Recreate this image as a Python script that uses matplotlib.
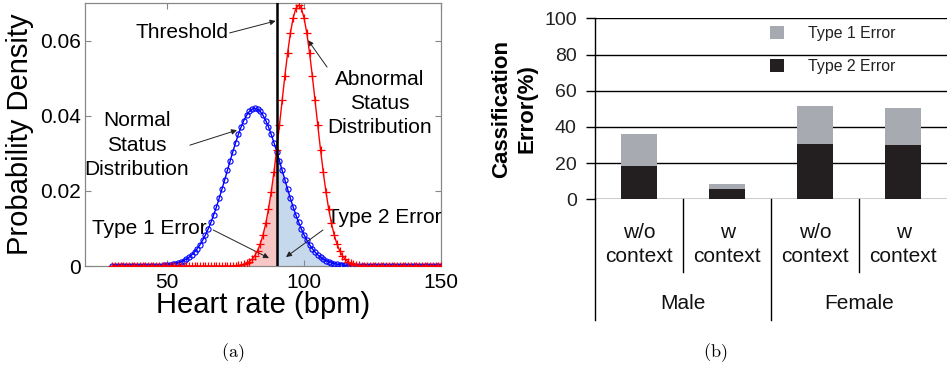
import numpy as np
import matplotlib
matplotlib.use("Agg")
import matplotlib.pyplot as plt
import matplotlib.transforms as mtransforms
from matplotlib.patches import Patch

plt.rcParams['font.family'] = ['Liberation Sans', 'DejaVu Sans']
plt.rcParams['mathtext.fontset'] = 'cm'

# ---------------- data: panel (a) ----------------
heart_rate = list(range(30, 151))  # bpm, one sample per bpm

normal_core = [0.00004, 0.00006, 0.00009, 0.00013, 0.00018, 0.00025, 0.00034, 0.00047,
               0.00063, 0.00083, 0.00110, 0.00143, 0.00184, 0.00236, 0.00298, 0.00373,
               0.00463, 0.00568, 0.00691, 0.00831, 0.00990, 0.01168, 0.01364, 0.01576,
               0.01804, 0.02045, 0.02294, 0.02547, 0.02801, 0.03050, 0.03287, 0.03508,
               0.03707, 0.03877, 0.04015, 0.04117, 0.04179,
               0.04200,
               0.04179, 0.04117, 0.04015, 0.03877, 0.03707, 0.03508, 0.03287, 0.03050,
               0.02801, 0.02547, 0.02294, 0.02045, 0.01804, 0.01576, 0.01364, 0.01168,
               0.00990, 0.00831, 0.00691, 0.00568, 0.00463, 0.00373, 0.00298, 0.00236,
               0.00184, 0.00143, 0.00110, 0.00083, 0.00063, 0.00047, 0.00034, 0.00025,
               0.00018, 0.00013, 0.00009, 0.00006, 0.00004]
normal_density = [0.0] * 15 + normal_core + [0.0] * 31      # 30..44, 45..119, 120..150

abnormal_core = [0.00005, 0.00009, 0.00016, 0.00027, 0.00045, 0.00074, 0.00117, 0.00182,
                 0.00276, 0.00408, 0.00589, 0.00827, 0.01133, 0.01514, 0.01972, 0.02505,
                 0.03104, 0.03749, 0.04416, 0.05072, 0.05681, 0.06205, 0.06609, 0.06863,
                 0.06950,
                 0.06863, 0.06609, 0.06205, 0.05681, 0.05072, 0.04416, 0.03749, 0.03104,
                 0.02505, 0.01972, 0.01514, 0.01133, 0.00827, 0.00589, 0.00408, 0.00276,
                 0.00182, 0.00117, 0.00074, 0.00045, 0.00027, 0.00016, 0.00009, 0.00005]
abnormal_density = [0.0] * 44 + abnormal_core + [0.0] * 28  # 30..73, 74..122, 123..150

threshold = 90

# ---------------- data: panel (b) ----------------
groups = ['Male', 'Female']
conditions = ['w/o\ncontext', 'w\ncontext', 'w/o\ncontext', 'w\ncontext']
type2_error = [18.5, 5.7, 30.5, 30.0]
type1_error = [17.5, 2.9, 21.0, 20.4]

# ---------------- figure ----------------
W, H = 948, 368
fig = plt.figure(figsize=(W / 100, H / 100), dpi=100)

def frac(x0, y0, x1, y1):
    return [x0 / W, 1 - y1 / H, (x1 - x0) / W, (y1 - y0) / H]

# ===== panel (a) =====
ax1 = fig.add_axes(frac(85, 3.3, 441, 266))
x = np.array(heart_rate)
yn = np.array(normal_density)
ya = np.array(abnormal_density)

ax1.fill_between(x, 0, ya, where=x <= threshold, color='#f9c6c6', lw=0, zorder=1)
ax1.fill_between(x, 0, yn, where=x >= threshold, color='#c6d9ec', lw=0, zorder=1)
ax1.plot(x, yn, color='#0000ff', lw=1.0, marker='o', ms=3.7, mfc='none',
         mec='#0000ff', mew=0.8, zorder=3)
ax1.plot(x, ya, color='#ff0000', lw=1.0, marker='+', ms=5.2, mew=0.9, zorder=4)
ax1.axvline(threshold, color='black', lw=1.8, zorder=5)

ax1.set_xlim(20, 150)
ax1.set_ylim(0, 0.07)
ax1.set_xticks([50, 100, 150])
ax1.set_yticks([0, 0.02, 0.04, 0.06])
ax1.set_yticklabels(['0', '0.02', '0.04', '0.06'])
ax1.tick_params(direction='in', top=True, right=True, length=4, color='#888888',
                labelsize=15, pad=3)
ax1.tick_params(axis='x', pad=5)
for s in ax1.spines.values():
    s.set_color('#888888')
    s.set_linewidth(0.9)

ax1.text(0.5, -0.179, 'Heart rate (bpm)', transform=ax1.transAxes, ha='center',
         va='baseline', fontsize=21)
ax1.text(-0.1826, 0.5, 'Probability Density', transform=ax1.transAxes, ha='center',
         va='center', rotation=90, fontsize=21)

arrow_kw = dict(arrowstyle='-|>', lw=0.7, color='#222222', mutation_scale=8,
                shrinkA=0, shrinkB=0)
ax1.text(55.4, 0.0621, 'Threshold', ha='center', va='center', fontsize=15)
ax1.annotate('', xy=(89.6, 0.0653), xytext=(72.8, 0.0621), arrowprops=arrow_kw)

ax1.text(39.0, 0.0322, 'Normal\nStatus\nDistribution', ha='center', va='center',
         fontsize=15, linespacing=1.38)
ax1.annotate('', xy=(75.5, 0.0362), xytext=(58.3, 0.0322), arrowprops=arrow_kw)

ax1.text(127.7, 0.0434, 'Abnormal\nStatus\nDistribution', ha='center', va='center',
         fontsize=15, linespacing=1.34)
ax1.annotate('', xy=(101.4, 0.0602), xytext=(108.4, 0.0530), arrowprops=arrow_kw)

ax1.text(43.4, 0.0101, 'Type 1 Error', ha='center', va='center', fontsize=15)
ax1.annotate('', xy=(87.2, 0.0021), xytext=(66.8, 0.0096), arrowprops=arrow_kw)

ax1.text(129.2, 0.0128, 'Type 2 Error', ha='center', va='center', fontsize=15)
ax1.annotate('', xy=(93.4, 0.0024), xytext=(106.9, 0.0096), arrowprops=arrow_kw)

fig.text(233 / W, 1 - 353 / H, r'$\mathrm{(a)}$', ha='center', va='center', fontsize=13)

# ===== panel (b) =====
ax2 = fig.add_axes(frac(595.3, 18.3, 947.3, 199.3))
pos = np.arange(len(conditions))
ax2.bar(pos, type2_error, width=0.41, color='#231f20', lw=0, zorder=3,
        label='Type 2 Error')
ax2.bar(pos, type1_error, width=0.41, bottom=type2_error, color='#a7abb1', lw=0,
        zorder=3, label='Type 1 Error')
ax2.set_xlim(-0.5, len(conditions) - 0.5)
ax2.set_ylim(0, 100)
ax2.set_yticks([0, 20, 40, 60, 80, 100])
ax2.yaxis.grid(True, color='black', lw=1.0, zorder=1)
ax2.set_axisbelow(True)
ax2.set_xticks([])
for name in ['top', 'right', 'bottom']:
    ax2.spines[name].set_visible(False)
ax2.spines['left'].set_linewidth(1.0)
ax2.tick_params(axis='y', direction='out', length=6.3, width=1.0, labelsize=14,
                pad=7, labelcolor='#222222')
ax2.spines['left'].set_zorder(4)

trans = mtransforms.blended_transform_factory(ax2.transData, ax2.transAxes)
# separators below the axis
for xb, depth in [(-0.5, -0.667), (0.5, -0.402), (1.5, -0.667), (2.5, -0.402)]:
    ax2.plot([xb, xb], [0, depth], color='black', lw=1.0, transform=trans,
             clip_on=False)
for p, lab in zip(pos, conditions):
    ax2.text(p, -0.248, lab, transform=trans, ha='center', va='center', fontsize=15,
             linespacing=1.32, color='#111111')
for gi, g in enumerate(groups):
    ax2.text(2 * gi + 0.5, -0.573, g, transform=trans, ha='center', va='center',
             fontsize=15, color='#111111')

ax2.text(-0.2295, 0.5, 'Cassification\nError(%)', transform=ax2.transAxes,
         rotation=90, ha='center', va='center', fontsize=16, fontweight='bold',
         linespacing=1.25)

handles = [Patch(color='#a7abb1', lw=0), Patch(color='#231f20', lw=0)]
ax2.legend(handles, ['Type 1 Error', 'Type 2 Error'], loc='upper left',
           bbox_to_anchor=(770 / W, 1 - 26 / H), bbox_transform=fig.transFigure,
           frameon=False, fontsize=11.4, handlelength=0.9, handleheight=0.9,
           handletextpad=1.5, labelspacing=1.15, borderpad=0, borderaxespad=0,
           labelcolor='#222222')

fig.text(715 / W, 1 - 353 / H, r'$\mathrm{(b)}$', ha='center', va='center', fontsize=13)

fig.savefig('out.png', dpi=100)
